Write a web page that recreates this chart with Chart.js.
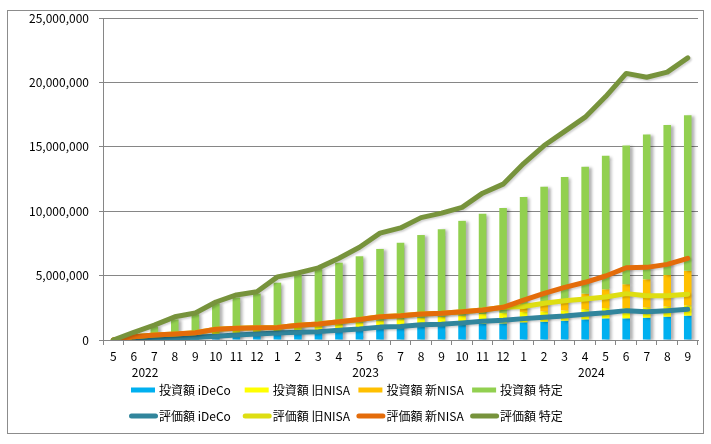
<!DOCTYPE html>
<html>
<head>
<meta charset="utf-8">
<script src="https://cdn.jsdelivr.net/npm/chart.js@4/dist/chart.umd.min.js"></script>
<style>
html,body{margin:0;padding:0;background:#fff;}
#wrap{width:711px;height:444px;position:relative;}
</style>
</head>
<body>
<div id="wrap"><canvas id="c"></canvas></div>
<script>
// ---- data ----
const months = ['5','6','7','8','9','10','11','12','1','2','3','4','5','6','7','8','9','10','11','12','1','2','3','4','5','6','7','8','9'];
const years = ['2022','2023','2024'];

const invIdeco   = [0,70000,140000,200000,270000,340000,400000,470000,540000,600000,670000,740000,800000,900000,980000,1050000,1100000,1160000,1240000,1290000,1370000,1420000,1500000,1600000,1680000,1680000,1730000,1810000,1890000];
const invOldNisa = [0,200000,230000,270000,300000,330000,370000,400000,430000,470000,500000,530000,570000,600000,630000,670000,700000,730000,770000,800000,800000,800000,800000,800000,800000,800000,800000,800000,800000];
const invNewNisa = [0,0,0,0,0,0,0,0,0,0,0,0,0,0,0,0,0,0,0,0,350000,630000,860000,1200000,1460000,1850000,2180000,2440000,2690000];
const invTokutei = [0,280000,680000,1130000,1430000,2180000,2530000,2730000,3480000,3980000,4330000,4730000,5130000,5570000,5940000,6430000,6800000,7360000,7790000,8160000,8580000,9050000,9490000,9850000,10360000,10770000,11240000,11650000,12070000];

const evalIdeco   = [0,50000,100000,160000,210000,300000,390000,470000,550000,600000,650000,760000,860000,1000000,1050000,1180000,1220000,1330000,1460000,1530000,1660000,1760000,1860000,2000000,2120000,2280000,2200000,2280000,2380000];
const evalOldNisa = [0,210000,290000,310000,360000,530000,520000,480000,430000,540000,590000,660000,740000,810000,840000,840000,850000,870000,870000,1010000,940000,1090000,1180000,1180000,1220000,1320000,1230000,1160000,1180000];
const evalNewNisa = [0,0,0,0,0,0,0,0,0,0,0,0,0,0,0,0,0,0,0,0,500000,770000,1050000,1300000,1630000,2010000,2210000,2430000,2780000];
const evalTokutei = [0,340000,760000,1330000,1530000,2120000,2590000,2800000,3920000,4060000,4360000,4930000,5600000,6490000,6810000,7480000,7780000,8100000,9070000,9560000,10600000,11480000,12110000,12820000,13930000,15090000,14760000,14930000,15560000];

const yTicks = [0,5000000,10000000,15000000,20000000,25000000];

const seriesNames = ['投資額 iDeCo','投資額 旧NISA','投資額 新NISA','投資額 特定','評価額 iDeCo','評価額 旧NISA','評価額 新NISA','評価額 特定'];
const barColors  = ['#00B0F0','#FFFF00','#FFC000','#92D050'];
const lineColors = ['#31859C','#DEDE12','#E46C0A','#77933C'];

const FONT = '"Noto Sans CJK JP", "Noto Sans", sans-serif';
const GRID = '#868686';

// ---- plugins ----
const frame = {
  id: 'frame',
  beforeDraw(chart) {
    const ctx = chart.ctx;
    ctx.save();
    ctx.fillStyle = '#fff';
    ctx.fillRect(0, 0, chart.width, chart.height);
    ctx.strokeStyle = '#8c8c8c';
    ctx.lineWidth = 1;
    ctx.strokeRect(7.5, 10.5, 696, 423);
    ctx.restore();
  }
};

const drawOrder = {
  id: 'drawOrder',
  beforeDatasetsDraw(chart) {
    if (typeof chart._drawDataset !== 'function') return true;
    const n = chart.data.datasets.length;
    for (let i = 0; i < n; i++) {
      const meta = chart.getDatasetMeta(i);
      if (chart.isDatasetVisible(i)) chart._drawDataset(meta);
    }
    return false;
  }
};

const shadows = {
  id: 'shadows',
  beforeDatasetDraw(chart, args) {
    const ctx = chart.ctx;
    ctx.save();
    if (args.meta.type === 'bar') {
      ctx.shadowColor = 'rgba(0,0,0,0.30)';
      ctx.shadowBlur = 3;
      ctx.shadowOffsetX = 3;
      ctx.shadowOffsetY = 1;
    } else {
      ctx.shadowColor = 'rgba(0,0,0,0.18)';
      ctx.shadowBlur = 2;
      ctx.shadowOffsetX = 1.5;
      ctx.shadowOffsetY = 1.5;
    }
  },
  afterDatasetDraw(chart) {
    chart.ctx.restore();
  }
};

const yearsAndLegend = {
  id: 'yearsAndLegend',
  afterDraw(chart) {
    const ctx = chart.ctx;
    const xs = chart.scales.x;
    ctx.save();
    ctx.font = '12px ' + FONT;
    ctx.fillStyle = '#000';
    ctx.textAlign = 'center';
    ctx.textBaseline = 'middle';
    const anchors = [1.55, 12.3, 23.3];
    years.forEach((y, i) => ctx.fillText(y, xs.getPixelForValue(anchors[i]), 372));

    // legend
    const startX = 131, step = 113.7, row1 = 390, row2 = 416;
    ctx.textAlign = 'left';
    for (let k = 0; k < 4; k++) {
      const x0 = startX + step * k;
      ctx.fillStyle = barColors[k];
      ctx.fillRect(x0, row1 - 2.5, 24, 5);
      ctx.fillStyle = '#000';
      ctx.fillText(seriesNames[k], x0 + 28, row1);

      ctx.strokeStyle = lineColors[k];
      ctx.lineWidth = 5;
      ctx.lineCap = 'round';
      ctx.beginPath();
      ctx.moveTo(x0 + 0.5, row2);
      ctx.lineTo(x0 + 24.5, row2);
      ctx.stroke();
      ctx.fillStyle = '#000';
      ctx.fillText(seriesNames[k + 4], x0 + 28, row2);
    }
    ctx.restore();
  }
};

// ---- datasets ----
const invData = [invIdeco, invOldNisa, invNewNisa, invTokutei];
const evalData = [evalIdeco, evalOldNisa, evalNewNisa, evalTokutei];
const datasets = [];
invData.forEach((d, k) => datasets.push({
  type: 'bar', label: seriesNames[k], data: d, stack: 'inv',
  backgroundColor: barColors[k], borderWidth: 0,
  barPercentage: 0.37, categoryPercentage: 1.0
}));
evalData.forEach((d, k) => datasets.push({
  type: 'line', label: seriesNames[k + 4], data: d, stack: 'eval',
  borderColor: lineColors[k], backgroundColor: lineColors[k],
  borderWidth: 5, pointRadius: 0, tension: 0, fill: false,
  borderCapStyle: 'round', borderJoinStyle: 'round'
}));

new Chart(document.getElementById('c'), {
  data: { labels: months, datasets },
  options: {
    responsive: true,
    maintainAspectRatio: false,
    animation: false,
    layout: { padding: { left: 0, right: 13, top: 18, bottom: 74 } },
    plugins: { legend: { display: false }, tooltip: { enabled: false } },
    scales: {
      x: {
        stacked: true,
        offset: true,
        afterFit(s) { s.height = 30; },
        grid: { display: true, drawOnChartArea: false, drawTicks: true, tickLength: 5, offset: true, color: GRID },
        border: { display: true, color: GRID },
        ticks: { color: '#000', font: { family: FONT, size: 12 }, padding: 4, maxRotation: 0, autoSkip: false }
      },
      y: {
        stacked: true,
        min: 0, max: 25000000,
        afterFit(s) { s.width = 103; },
        afterBuildTicks(s) { s.ticks = yTicks.map(v => ({ value: v })); },
        grid: { color: GRID, tickLength: 4, drawTicks: true },
        border: { display: true, color: GRID },
        ticks: {
          color: '#000', font: { family: FONT, size: 12 }, padding: 10,
          callback: v => Number(v).toLocaleString('en-US')
        }
      }
    }
  },
  plugins: [frame, drawOrder, shadows, yearsAndLegend]
});
</script>
</body>
</html>
